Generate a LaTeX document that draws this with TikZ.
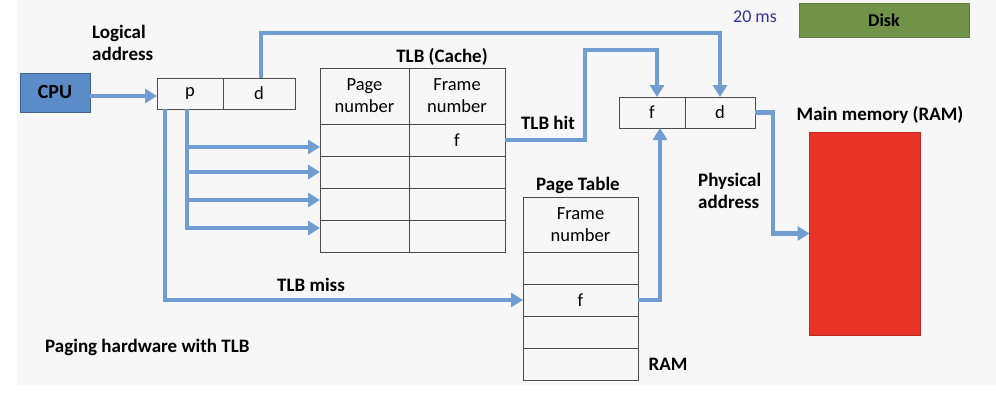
\documentclass[tikz,border=0pt]{standalone}
\usepackage{fontspec}
\setmainfont{Carlito}
\usetikzlibrary{arrows.meta,calc,positioning}
\definecolor{flowblue}{RGB}{112,157,210}
\definecolor{cpublue}{RGB}{92,140,200}
\definecolor{diskgreen}{RGB}{112,147,72}
\definecolor{ramred}{RGB}{232,52,40}
\definecolor{msblue}{RGB}{50,50,160}
\tikzset{
 cell/.style={draw=black!70,line width=0.9pt,rectangle,outer sep=0pt,inner sep=1pt,
  align=center,font=\fontsize{18.5}{22}\selectfont},
 lbl/.style={font=\fontsize{19}{22}\selectfont\bfseries,inner sep=0pt},
 flow/.style={draw=flowblue,line width=4.5pt,-{Triangle[length=12pt,width=14pt]}},
 flowline/.style={draw=flowblue,line width=4.5pt}
}
\begin{document}
\begin{tikzpicture}[x=1pt,y=-1pt,line join=miter]
\useasboundingbox (0,0) rectangle (996,402);
\fill[white] (0,0) rectangle (996,402);
\fill[black!3] (17,0) rectangle (996,385);
% boxes on the left
\node[draw=cpublue!70!black,fill=cpublue,minimum width=70pt,minimum height=39pt,
 font=\fontsize{20}{23}\selectfont\bfseries,outer sep=0pt] (cpu) at (55,92.5) {CPU};
\node[lbl,align=left,anchor=west] (logaddr) at (92,43) {Logical\\address};
\node[cell,minimum width=66pt,minimum height=31pt] (lp) at (190,93.5) {p};
\node[cell,minimum width=72pt,minimum height=31pt] (ld) at (259,93.5) {d};
% TLB
\node[lbl] (tlbtitle) at (442,57) {TLB (Cache)};
\node[cell,minimum width=89pt,minimum height=56pt] (tlbhp) at (364.5,96) {Page\\number};
\node[cell,minimum width=96pt,minimum height=56pt] (tlbhf) at (457,96) {Frame\\number};
\foreach \r/\yy/\txt in {1/140/f,2/172/,3/204/,4/236/}{
 \node[cell,minimum width=89pt,minimum height=32pt] (tlb\r p) at (364.5,\yy) {};
 \node[cell,minimum width=96pt,minimum height=32pt] (tlb\r f) at (457,\yy) {\txt};
}
% page table
\node[lbl] (pttitle) at (578,185) {Page Table};
\node[cell,minimum width=115pt,minimum height=55pt] (pth) at (580.5,224.5) {Frame\\number};
\foreach \r/\yy/\txt in {1/268/,2/300/f,3/332/,4/364/}{
 \node[cell,minimum width=115pt,minimum height=32pt] (pt\r) at (580.5,\yy) {\txt};
}
\node[lbl] (ptram) at (668,364) {RAM};
% physical address
\node[cell,minimum width=66pt,minimum height=31pt] (pf) at (652,112.5) {f};
\node[cell,minimum width=70pt,minimum height=31pt] (pd) at (720,112.5) {d};
\node[lbl,align=left,anchor=west] (physaddr) at (698,191) {Physical\\address};
\node[lbl] (memtitle) at (880,115) {Main memory (RAM)};
\node[draw=ramred!80!black,fill=ramred,minimum width=111pt,minimum height=203pt,
 outer sep=0pt] (ram) at (865,233.5) {};
\node[draw=diskgreen!85!black,fill=diskgreen,minimum width=170pt,minimum height=34pt,
 font=\fontsize{18}{21}\selectfont\bfseries,outer sep=0pt] (disk) at (884,20) {Disk};
\node[font=\fontsize{18}{21}\selectfont,text=msblue] (ms) at (755,17) {20 ms};
\node[lbl] (hitlbl) at (548,123) {TLB hit};
\node[lbl] (misslbl) at (311,285) {TLB miss};
\node[lbl,anchor=west] (caption) at (45,347) {Paging hardware with TLB};
% connectors
\coordinate (dtop) at (261,33);
\coordinate (hittop) at (585,50);
\draw[flow] (cpu.east |- 0,96) -- (lp.west |- 0,96);
\draw[flow] ([xshift=2pt]ld.north) -- (dtop) -| (pd.north);
\draw[flow] (tlb1f.east) -| (hittop) -| ([xshift=5pt]pf.north);
\draw[flowline] ([xshift=-3pt]lp.south) -- ++(0,119);
\foreach \r/\dy in {1/7,2/0,3/-4,4/-8}
 \draw[flow] ([xshift=-3pt]lp.south) |- ([yshift=-\dy pt]tlb\r p.west);
\draw[flow] ([xshift=-25pt]lp.south) |- (pt2.west);
\draw[flow] (pt2.east) -| ([xshift=8pt]pf.south);
\draw[flow] (pd.east) -- ++(18,0) |- (ram.west);
\end{tikzpicture}
\end{document}
